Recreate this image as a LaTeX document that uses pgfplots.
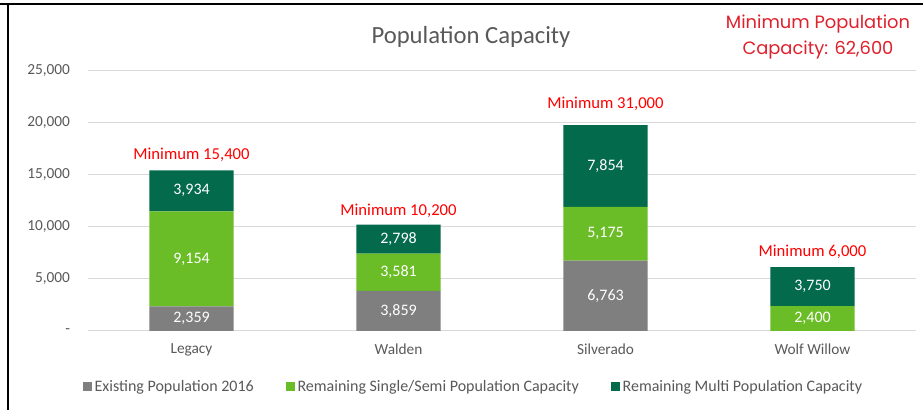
\documentclass[border=0pt]{standalone}
\usepackage{pgfplots}
\pgfplotsset{compat=1.18}
\usepackage{fontspec}
\setmainfont{Carlito}
\newfontfamily\redfont{Poppins}
\definecolor{cgray}{HTML}{7F7F7F}
\definecolor{lgreen}{HTML}{6ABD26}
\definecolor{dgreen}{HTML}{036A4B}
\definecolor{txt}{HTML}{595959}
\definecolor{gridc}{HTML}{D9D9D9}
\definecolor{minred}{HTML}{FF0000}
\definecolor{topred}{HTML}{E0202C}
\tikzset{seglab/.style={text=white, font=\fontsize{12}{14}\selectfont},
  minlab/.style={text=minred, font=\fontsize{12.5}{14}\selectfont}}
\begin{document}
\begin{tikzpicture}
\useasboundingbox (0,0) rectangle (692.25pt,307.5pt);
\fill[white] (0,0) rectangle (692.25pt,307.5pt);
\begin{axis}[
  at={(66pt,59.25pt)}, anchor=south west,
  scale only axis, width=621pt, height=195pt,
  ybar stacked, bar width=0.406,
  xmin=-0.5, xmax=3.5, ymin=0, ymax=25000,
  xtick={0,1,2,3}, xticklabels={Legacy,Walden,Silverado,Wolf Willow},
  ytick={0,5000,10000,15000,20000,25000},
  yticklabels={-,{5,000},{10,000},{15,000},{20,000},{25,000}},
  scaled y ticks=false,
  axis x line*=bottom, axis y line*=left,
  x axis line style={gridc, line width=0.75pt},
  y axis line style={draw=none},
  major tick length=0pt,
  ymajorgrids, grid style={gridc, line width=0.75pt},
  ticklabel style={text=txt, font=\fontsize{11.5}{13}\selectfont},
  yticklabel style={xshift=-10pt},
  xticklabel style={yshift=-6pt},
  clip=false,
  legend style={at={(0.466,-0.215)}, anchor=center, draw=none, fill=none,
    font=\fontsize{12}{13}\selectfont, text=txt, legend columns=3,
    /tikz/every even column/.append style={column sep=22pt}},
  legend image code/.code={\fill[#1] (0pt,-3.4pt) rectangle (6.8pt,3.4pt);},
]
\addplot[fill=cgray, draw=none] coordinates {(0,2359) (1,3859) (2,6763) (3,0)};
\addplot[fill=lgreen, draw=none] coordinates {(0,9154) (1,3581) (2,5175) (3,2400)};
\addplot[fill=dgreen, draw=none] coordinates {(0,3934) (1,2798) (2,7854) (3,3750)};
\legend{Existing Population 2016, Remaining Single/Semi Population Capacity, Remaining Multi Population Capacity}
\coordinate (a1) at (axis cs:0,1179.5);
\coordinate (a2) at (axis cs:0,6936);
\coordinate (a3) at (axis cs:0,13480);
\coordinate (b1) at (axis cs:1,1929.5);
\coordinate (b2) at (axis cs:1,5649.5);
\coordinate (b3) at (axis cs:1,8839);
\coordinate (c1) at (axis cs:2,3381.5);
\coordinate (c2) at (axis cs:2,9350.5);
\coordinate (c3) at (axis cs:2,15865);
\coordinate (d2) at (axis cs:3,1200);
\coordinate (d3) at (axis cs:3,4275);
\coordinate (ma) at (axis cs:0,16923);
\coordinate (mb) at (axis cs:1,11538);
\coordinate (mc) at (axis cs:2,21827);
\coordinate (md) at (axis cs:3,7596);
\end{axis}
\node[seglab] at (a1) {2,359};
\node[seglab] at (a2) {9,154};
\node[seglab] at (a3) {3,934};
\node[seglab] at (b1) {3,859};
\node[seglab] at (b2) {3,581};
\node[seglab] at (b3) {2,798};
\node[seglab] at (c1) {6,763};
\node[seglab] at (c2) {5,175};
\node[seglab] at (c3) {7,854};
\node[seglab] at (d2) {2,400};
\node[seglab] at (d3) {3,750};
\node[minlab] at (ma) {Minimum 15,400};
\node[minlab] at (mb) {Minimum 10,200};
\node[minlab] at (mc) {Minimum 31,000};
\node[minlab] at (md) {Minimum 6,000};
\begin{scope}[x=0.75pt,y=0.75pt]
\node[text=txt, font=\fontsize{18.5}{20}\selectfont] at (471,373) {Population Capacity};
\node[text=topred, font=\redfont\fontsize{13.4}{19.5}\selectfont, align=center] at (818,373) {Minimum Population\\Capacity: 62,600};
\draw[black, line width=1.8pt] (8,0) -- (8,406);
\draw[black, line width=1.8pt] (0,406) -- (923,406);
\end{scope}
\end{tikzpicture}
\end{document}
